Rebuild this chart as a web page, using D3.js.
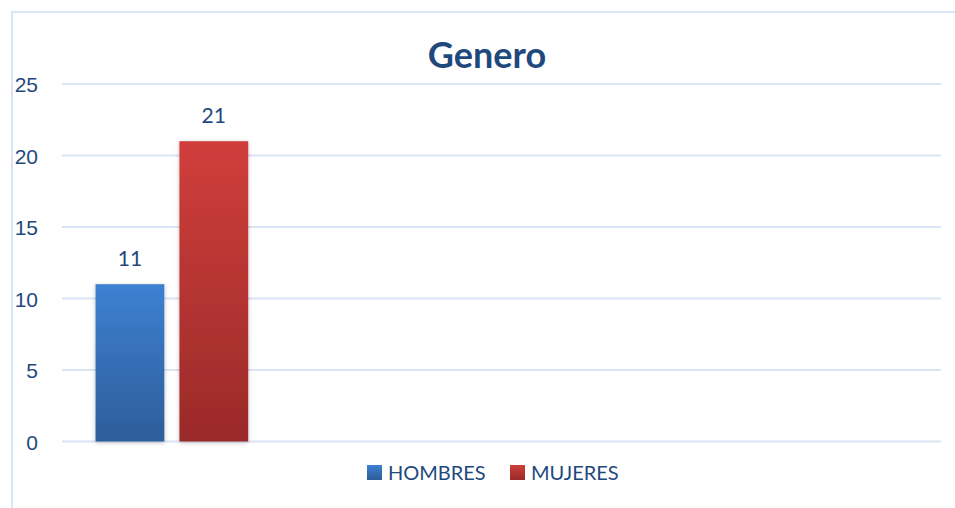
<!DOCTYPE html>
<html>
<head>
<meta charset="utf-8">
<script src="https://cdn.jsdelivr.net/npm/d3@7.9.0/dist/d3.min.js"></script>
<style>
  body { margin: 0; background: #fff; }
  svg { display: block; font-family: Lato, "Open Sans", sans-serif; }
</style>
</head>
<body>
<svg id="chart" width="955" height="508"></svg>
<script>
// chart data
const categories = ['c1', 'c2', 'c3', 'c4'];
const series = ['HOMBRES', 'MUJERES'];
const hombres = [11, null, null, null];
const mujeres = [21, null, null, null];
const yTicks = [0, 5, 10, 15, 20, 25];
const title = 'Genero';

const width = 955, height = 508;
const margin = { top: 84, right: 14, bottom: 66, left: 62 };
const textColor = '#1f497d';

const svg = d3.select('#chart');
const defs = svg.append('defs');

// gradients for the bars
const grads = [
  { id: 'gBlue', top: '#3e80d2', bottom: '#2d5d99' },
  { id: 'gRed', top: '#d03e3b', bottom: '#9a2a29' },
];
grads.forEach((g) => {
  const lg = defs.append('linearGradient')
    .attr('id', g.id).attr('x1', 0).attr('y1', 0).attr('x2', 0).attr('y2', 1);
  lg.append('stop').attr('offset', '0%').attr('stop-color', g.top);
  lg.append('stop').attr('offset', '100%').attr('stop-color', g.bottom);
});
const shadow = defs.append('filter').attr('id', 'shadow')
  .attr('x', '-20%').attr('y', '-10%').attr('width', '140%').attr('height', '120%');
shadow.append('feDropShadow').attr('dx', 0).attr('dy', 1).attr('stdDeviation', 2)
  .attr('flood-color', '#000').attr('flood-opacity', 0.25);

// outer frame (clipped by the picture at right and bottom)
svg.append('rect')
  .attr('x', 12).attr('y', 12).attr('width', 960).attr('height', 520)
  .attr('fill', 'none').attr('stroke', '#d9e4f4').attr('stroke-width', 2);

const x0 = d3.scaleBand().domain(categories)
  .range([margin.left, width - margin.right]);
const x1 = d3.scaleBand().domain(series)
  .range([0, x0.bandwidth()]).paddingInner(0.18).paddingOuter(0.4);
const y = d3.scaleLinear().domain([0, 25])
  .range([height - margin.bottom - 0.5, margin.top]);

// gridlines
svg.append('g').selectAll('line').data(yTicks).join('line')
  .attr('x1', margin.left).attr('x2', width - margin.right)
  .attr('y1', (d) => y(d)).attr('y2', (d) => y(d))
  .attr('stroke', '#d9e4f4').attr('stroke-width', 2);

// y axis
const yAxis = svg.append('g')
  .attr('transform', `translate(${margin.left - 24},0)`)
  .call(d3.axisLeft(y).tickValues(yTicks).tickSize(0).tickPadding(0));
yAxis.select('.domain').remove();
yAxis.selectAll('text')
  .attr('fill', textColor).attr('font-size', 21).attr('dy', '0.36em');

// bars
const rows = categories.map((c, i) => ({ cat: c, values: [hombres[i], mujeres[i]] }));
const fills = ['url(#gBlue)', 'url(#gRed)'];
const groups = svg.append('g').selectAll('g').data(rows).join('g')
  .attr('transform', (d) => `translate(${x0(d.cat)},0)`);
groups.selectAll('rect')
  .data((d) => d.values.map((v, j) => ({ key: series[j], v, j })).filter((e) => e.v != null))
  .join('rect')
  .attr('x', (d) => x1(d.key))
  .attr('width', x1.bandwidth())
  .attr('y', (d) => y(d.v))
  .attr('height', (d) => y(0) - y(d.v))
  .attr('fill', (d) => fills[d.j])
  .attr('filter', 'url(#shadow)');
groups.selectAll('text')
  .data((d) => d.values.map((v, j) => ({ key: series[j], v })).filter((e) => e.v != null))
  .join('text')
  .attr('x', (d) => x1(d.key) + x1.bandwidth() / 2)
  .attr('y', (d) => y(d.v) - 18)
  .attr('text-anchor', 'middle')
  .attr('fill', textColor).attr('font-size', 21)
  .text((d) => d.v);

// title
svg.append('text')
  .attr('x', 487).attr('y', 68)
  .attr('text-anchor', 'middle')
  .attr('fill', textColor).attr('font-size', 36).attr('font-weight', 'bold')
  .text(title);

// legend
const legend = svg.append('g').attr('transform', 'translate(367,465)');
const legendX = [0, 143];
series.forEach((s, i) => {
  const g = legend.append('g').attr('transform', `translate(${legendX[i]},0)`);
  g.append('rect').attr('width', 15).attr('height', 15).attr('fill', fills[i]);
  g.append('text').attr('x', 21).attr('y', 14.5)
    .attr('fill', textColor).attr('font-size', 20).text(s);
});
</script>
</body>
</html>
